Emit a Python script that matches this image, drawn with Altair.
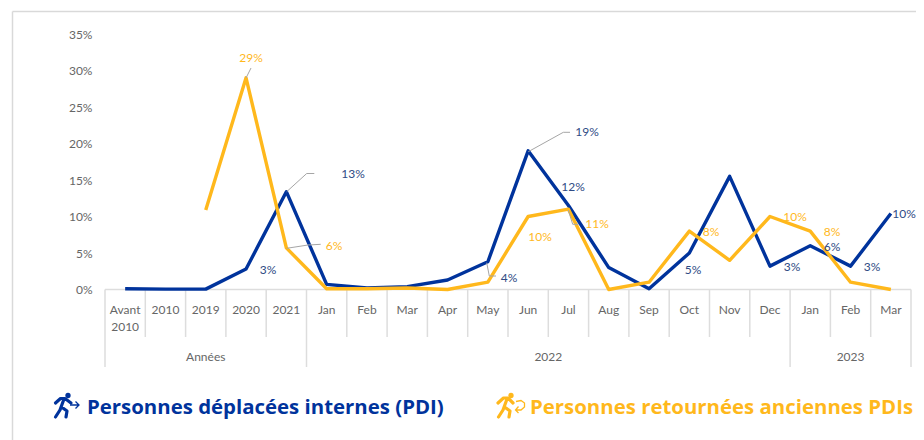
import altair as alt
import pandas as pd

categories = ["Avant 2010", "2010", "2019", "2020", "2021", "Jan", "Feb", "Mar", "Apr", "May", "Jun", "Jul",
              "Aug", "Sep", "Oct", "Nov", "Dec", "Jan", "Feb", "Mar"]
pdi = [0.1, 0.05, 0.05, 2.8, 13.4, 0.7, 0.2, 0.4, 1.3, 3.8, 19.0, 11.5, 3.0, 0.1, 5.0, 15.5, 3.2, 6.0, 3.2, 10.4]
ret = [None, None, 10.9, 29.0, 5.7, 0.1, 0.1, 0.2, 0.0, 1.0, 10.0, 11.0, 0.0, 1.0, 8.0, 4.0, 10.0, 8.0, 1.0, 0.0]

BLUE, YEL, NAVY = "#00339C", "#FFB81C", "#2F4B85"
GREY, RULE, LEAD = "#666666", "#DDDDDD", "#A6A6A6"
FONT = "Lato"

X0, BW, Y0, PXPCT = 105.0, 40.3, 289.5, 7.3
W, H = 806, 255.5


def ux(px):
    return (px - X0) / BW


def uy(py):
    return (Y0 - py) / PXPCT


xs = alt.Scale(domain=[0, 20])
ys = alt.Scale(domain=[0, 35])
X = alt.X("x:Q", scale=xs, axis=None)
Y = alt.Y("y:Q", scale=ys, title=None, axis=alt.Axis(
    values=[0, 5, 10, 15, 20, 25, 30, 35], labelExpr="datum.value + '%'", domain=False, ticks=False, grid=False,
    labelColor=GREY, labelFont=FONT, labelFontSize=12, labelPadding=13))
X2 = alt.X2("x2:Q")
Y2 = alt.Y2("y2:Q")

# series
rows = []
for i, (a, b) in enumerate(zip(pdi, ret)):
    rows.append({"x": i + 0.5, "y": a, "s": "PDI"})
    if b is not None:
        rows.append({"x": i + 0.5, "y": b, "s": "RET"})
series = pd.DataFrame(rows)

blue_line = alt.Chart(series[series.s == "PDI"]).mark_line(color=BLUE, strokeWidth=3.4, strokeJoin="round").encode(x=X, y=Y)
yel_line = alt.Chart(series[series.s == "RET"]).mark_line(color=YEL, strokeWidth=3.4, strokeJoin="round").encode(x=X, y=Y)

# frame and category axis lines
short_seps = [i for i in range(21)]
long_seps = [0, 5, 17, 20]
rules = [{"x": 0, "x2": 20, "y": 0, "y2": 0}]
for i in short_seps:
    rules.append({"x": i, "x2": i, "y": 0, "y2": uy(337)})
for i in long_seps:
    rules.append({"x": i, "x2": i, "y": uy(337), "y2": uy(367)})
axis_rules = alt.Chart(pd.DataFrame(rules)).mark_rule(color=RULE, strokeWidth=1.5).encode(x=X, x2=X2, y=Y, y2=Y2)

frame = pd.DataFrame([
    {"x": ux(12.5), "x2": ux(924), "y": uy(11.5), "y2": uy(11.5)},
    {"x": ux(12.5), "x2": ux(12.5), "y": uy(11.5), "y2": uy(440)},
])
frame_rules = alt.Chart(frame).mark_rule(color="#D9D9D9", strokeWidth=1.5).encode(x=X, x2=X2, y=Y, y2=Y2)

# category labels
cat_rows = []
for i, c in enumerate(categories):
    if c == "Avant 2010":
        cat_rows.append({"x": i + 0.5, "y": uy(309.5), "t": "Avant"})
        cat_rows.append({"x": i + 0.5, "y": uy(327), "t": "2010"})
    else:
        cat_rows.append({"x": i + 0.5, "y": uy(309.5), "t": c})
group_rows = [
    {"x": 2.5, "y": uy(356.5), "t": "Années"},
    {"x": 11, "y": uy(356.5), "t": "2022"},
    {"x": 18.5, "y": uy(356.5), "t": "2023"},
]
cat_text = alt.Chart(pd.DataFrame(cat_rows + group_rows)).mark_text(
    font=FONT, fontSize=12, color=GREY, align="center", baseline="middle").encode(x=X, y=Y, text="t:N")

# value labels
navy_labels = [("13%", 353, 174), ("3%", 268, 270), ("4%", 509, 277.5), ("19%", 587, 132), ("12%", 573, 187),
               ("5%", 693, 270), ("3%", 792, 267), ("6%", 832, 247), ("3%", 872, 267), ("10%", 904, 214)]
yel_labels = [("29%", 251, 58), ("6%", 334, 246), ("10%", 540, 236.5), ("11%", 597, 224), ("8%", 711, 232),
              ("10%", 795, 217), ("8%", 832, 231.5)]


def labels(items, color):
    df = pd.DataFrame([{"x": ux(a), "y": uy(b), "t": t} for t, a, b in items])
    return alt.Chart(df).mark_text(font=FONT, fontSize=12, color=color, align="center", baseline="middle").encode(
        x=X, y=Y, text="t:N")


# leader lines
leaders = [
    [(286.7, 191.7), (306.7, 173.5), (314.3, 173.5)],
    [(246, 78), (251, 68)],
    [(286.7, 248.3), (308, 245), (320.7, 244.3)],
    [(528.3, 151.7), (563.3, 132.3), (570, 132.3)],
    [(568.3, 210), (572.7, 224.3), (578.3, 224.3)],
    [(486.7, 262.7), (489.3, 276), (496, 276)],
]
lead_rows = []
for k, pts in enumerate(leaders):
    for o, (a, b) in enumerate(pts):
        lead_rows.append({"x": ux(a), "y": uy(b), "k": k, "o": o})
leader_lines = alt.Chart(pd.DataFrame(lead_rows)).mark_line(color=LEAD, strokeWidth=1).encode(
    x=X, y=Y, detail="k:N", order="o:Q")

# legend
legend_rows = [("Personnes déplacées internes (PDI)", 87, BLUE), ("Personnes retournées anciennes PDIs", 530, YEL)]


def legend_text(t, a, c):
    return alt.Chart(pd.DataFrame([{"x": ux(a), "y": uy(408), "t": t}])).mark_text(
        font="Open Sans", fontSize=20.4, fontWeight="bold", color=c, align="left", baseline="middle").encode(x=X, y=Y, text="t:N")


def icon_path(strokes, cx, cy, r):
    parts = []
    for s in strokes:
        parts.append("M" + " L".join(f"{(a - cx) / r:.3f},{(b - cy) / r:.3f}" for a, b in s))
    return " ".join(parts)


def icon(body, arrow, head, cx, color):
    cy, r = 406.0, 16.0
    at = pd.DataFrame([{"x": ux(cx), "y": uy(cy)}])
    size = (2 * r) ** 2
    return [
        alt.Chart(at).mark_point(shape=icon_path(body, cx, cy, r), size=size, filled=False, stroke=color,
                                 strokeWidth=3.2, opacity=1, strokeCap="round", strokeJoin="round").encode(x=X, y=Y),
        alt.Chart(at).mark_point(shape=icon_path(arrow, cx, cy, r), size=size, filled=False, stroke=color,
                                 strokeWidth=1.3, opacity=1).encode(x=X, y=Y),
        alt.Chart(pd.DataFrame([{"x": ux(head[0]), "y": uy(head[1])}])).mark_point(
            shape="circle", size=28, filled=True, color=color, opacity=1).encode(x=X, y=Y),
    ]


icon1 = icon(
    [[(55.5, 403), (60.5, 398.5), (65, 398.5), (71, 403)], [(64, 399), (60, 410), (55.5, 417)],
     [(61.5, 407), (67, 411), (66, 417)]],
    [[(70, 405), (79, 405)], [(75.5, 401.5), (79, 405), (75.5, 408.5)]],
    (68, 395.5), 67, BLUE)
icon2 = icon(
    [[(498, 403), (503.5, 398), (508, 398), (513, 403)], [(507, 399), (503, 410), (498.5, 417)],
     [(504.5, 407), (510, 411), (509, 417)]],
    [[(516, 401.5), (521, 400.5), (524.5, 403), (524.5, 407), (521, 410), (515.5, 410)],
     [(518.5, 406.5), (515.5, 410), (518.5, 413)]],
    (511, 395.5), 511, YEL)

layers = [frame_rules, axis_rules, blue_line, yel_line, leader_lines, cat_text,
          labels(navy_labels, NAVY), labels(yel_labels, YEL)]
layers += [legend_text(*r) for r in legend_rows] + icon1 + icon2

chart = alt.layer(*layers).properties(
    width=W, height=H,
    padding={"left": X0 - 8, "top": 26, "right": 908 - (X0 - 8) - W, "bottom": 432 - 26 - H},
    autosize=alt.AutoSizeParams(type="none"),
    background="white",
).configure_view(stroke=None)

chart.save("out.html", embed_options={"renderer": "svg", "actions": False})
